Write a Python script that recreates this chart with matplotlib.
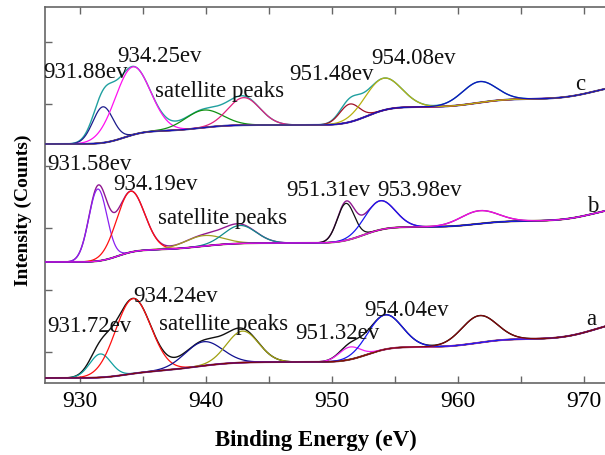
import numpy as np
import matplotlib
matplotlib.use("Agg")
import matplotlib.pyplot as plt
from math import erf

# ---------------- data ----------------
# Spectrum c (top)
c_bg0 = 239
c_steps_center = [933.5, 939.5, 952.8, 961.5, 971.0]
c_steps_height = [13, 6, 18, 8, 16]
c_steps_width = [1.8, 2.5, 2.0, 2.5, 3.0]
c_peak_center = [931.8, 934.15, 939.8, 943.0, 951.4, 954.05, 961.7]
c_peak_height = [36, 68, 17.5, 27.5, 18, 32, 21]
c_peak_fwhm = [1.9, 3.3, 3.5, 3.0, 1.85, 3.4, 3.2]
c_peak_color = ['#1c1c8c', '#ff10f0', '#109010', '#e0207f', '#a01028', '#b8b010', '#1010c0']
c_env_color = '#20a0a0'
c_bg_color = '#202090'

# Spectrum b (middle)
b_bg0 = 121
b_steps_center = [933.0, 939.5, 952.5, 961.5, 971.0]
b_steps_height = [12, 7, 16, 6, 16]
b_steps_width = [1.6, 3.0, 2.0, 2.5, 3.0]
b_peak_center = [931.4, 934.0, 939.8, 942.7, 951.1, 953.8, 961.7]
b_peak_height = [72, 61, 10.5, 18, 37, 29, 13]
b_peak_fwhm = [1.7, 2.6, 3.5, 3.0, 1.6, 2.8, 3.5]
b_peak_color = ['#8a20f0', '#ff1010', '#a0a020', '#108c8c', '#101010', '#1818f0', '#f010e0']
b_env_color = '#901890'
b_bg_color = '#7a6438'

# Spectrum a (bottom)
a_bg0 = 5
a_steps_center = [933.5, 939.0, 952.8, 961.5, 971.0]
a_steps_height = [6, 10, 15, 8, 20]
a_steps_width = [2.0, 3.5, 2.0, 2.5, 3.0]
a_peak_center = [931.6, 934.2, 939.8, 942.9, 951.4, 954.2, 961.7]
a_peak_height = [23.5, 75, 24, 31.5, 12.5, 34.5, 27]
a_peak_fwhm = [2.0, 3.3, 3.5, 3.0, 2.0, 3.2, 3.3]
a_peak_color = ['#10a0a0', '#ff1010', '#101090', '#a0a010', '#f020f0', '#1818f0', '#800808']
a_env_color = '#101010'
a_bg_color = '#801050'

# labels: (text, E, intensity)
c_labels = [("931.88ev", 930.4, 312), ("934.25ev", 936.3, 327),
            ("satellite peaks", 941.1, 293), ("951.48ev", 950.0, 310),
            ("954.08ev", 956.5, 325)]
b_labels = [("931.58ev", 930.7, 219), ("934.19ev", 936.0, 200),
            ("satellite peaks", 941.3, 165), ("951.31ev", 949.7, 193),
            ("953.98ev", 957.0, 193)]
a_labels = [("931.72ev", 930.7, 57), ("934.24ev", 937.6, 87),
            ("satellite peaks", 941.4, 59), ("951.32ev", 950.4, 50),
            ("954.04ev", 955.9, 73)]
series_letters = [("c", 969.7, 299), ("b", 970.7, 177), ("a", 970.6, 64)]

xticks_major = [930, 940, 950, 960, 970]

# ---------------- drawing ----------------
serif = ['Liberation Serif', 'DejaVu Serif']
plt.rcParams['font.family'] = serif

fig = plt.figure(figsize=(6.05, 4.56), dpi=100)
ax = fig.add_axes([45 / 605, 1 - 384 / 456, 1 - 45 / 605, (384 - 8) / 456])

E = np.linspace(927.2, 971.7, 1500)
verf = np.vectorize(erf)


def background(b0, centers, heights, widths):
    bg = np.full_like(E, float(b0))
    for cc, hh, ww in zip(centers, heights, widths):
        bg += hh * 0.5 * (1 + verf((E - cc) / ww))
    return bg


def draw_spectrum(b0, sc, sh, sw, pc, ph, pf, colors, env_color, bg_color):
    bg = background(b0, sc, sh, sw)
    comps = []
    for cc, hh, ff in zip(pc, ph, pf):
        comps.append(hh * np.exp(-4 * np.log(2) * (E - cc) ** 2 / ff ** 2))
    env = bg + np.sum(comps, axis=0)
    ax.plot(E, env, color=env_color, lw=1.0, zorder=3)
    for comp, col in zip(comps, colors):
        ax.plot(E, bg + comp, color=col, lw=0.9, zorder=4)
    ax.plot(E, bg, color=bg_color, lw=1.4, zorder=2)


draw_spectrum(c_bg0, c_steps_center, c_steps_height, c_steps_width,
              c_peak_center, c_peak_height, c_peak_fwhm, c_peak_color, c_env_color, c_bg_color)
draw_spectrum(b_bg0, b_steps_center, b_steps_height, b_steps_width,
              b_peak_center, b_peak_height, b_peak_fwhm, b_peak_color, b_env_color, b_bg_color)
draw_spectrum(a_bg0, a_steps_center, a_steps_height, a_steps_width,
              a_peak_center, a_peak_height, a_peak_fwhm, a_peak_color, a_env_color, a_bg_color)

for lab in (c_labels, b_labels, a_labels):
    for txt, x, y in lab:
        ax.text(x, y, txt, fontsize=16.5, ha='center', va='center', color='#111111', zorder=6)
for txt, x, y in series_letters:
    ax.text(x, y, txt, fontsize=16.5, ha='center', va='center', color='#111111')

ax.set_xlim(927.2, 971.7)
ax.set_ylim(0, 376)
ax.set_xticks(xticks_major)
ax.set_xticks(np.arange(930, 972, 5), minor=True)
ax.set_xticklabels([str(v) for v in xticks_major], fontsize=17)
ax.set_yticks(np.arange(31, 376, 62))
ax.set_yticklabels([])
ax.tick_params(axis='both', which='both', direction='in', length=5, width=1,
               color='#666666', top=True, bottom=True, left=True, right=False)
ax.tick_params(axis='x', which='major', pad=5)
for s in ['left', 'bottom', 'top']:
    ax.spines[s].set_color('#666666')
    ax.spines[s].set_linewidth(1.2)
ax.spines['right'].set_visible(False)

ax.set_xlabel('Binding Energy (eV)', fontsize=16.5, fontweight='bold', va='center')
ax.xaxis.set_label_coords((316 - 45) / 560, (384 - 440) / 376)
ax.set_ylabel('Intensity (Counts)', fontsize=14, fontweight='bold', va='center')
ax.yaxis.set_label_coords((23 - 45) / 560, (384 - 210) / 376)

fig.savefig('out.png', dpi=100)
